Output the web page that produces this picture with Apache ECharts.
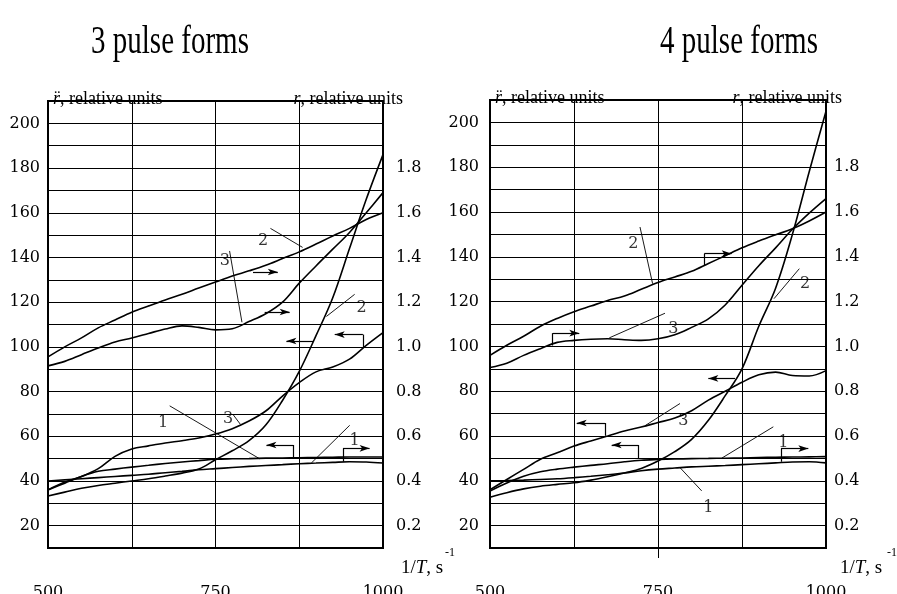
<!DOCTYPE html>
<html>
<head>
<meta charset="utf-8">
<script src="https://cdn.jsdelivr.net/npm/echarts@6/dist/echarts.min.js"></script>
<style>
  html, body { margin: 0; padding: 0; background: #fff; }
  #chart { width: 897px; height: 594px; }
</style>
</head>
<body>
<div id="chart"></div>
<script>
// 1/T values the curves were read at
const temps = [500, 525, 550, 575, 600, 625, 650, 675, 700, 725, 750, 775, 800, 825, 850, 875, 900, 925, 950, 975, 1000];
const xTicks = [500, 750, 1000];
const rddTicks = [20, 40, 60, 80, 100, 120, 140, 160, 180, 200];
const rTicks = [0.2, 0.4, 0.6, 0.8, 1.0, 1.2, 1.4, 1.6, 1.8];

// 3 pulse forms: r-double-dot (left axis) and r (right axis)
const p3_rdd1 = [36, 39, 42, 44.3, 45.3, 46.2, 47, 47.8, 48.5, 49.1, 49.7, 49.9, 50, 50.2, 50.3, 50.4, 50.5, 50.6, 50.7, 50.7, 50.7];
const p3_rdd2 = [33.3, 35, 36.7, 38, 39, 40, 41, 42.2, 43.5, 45.3, 49.5, 53.5, 58, 65, 76, 89, 105, 122, 144, 166, 186];
const p3_rdd3 = [36, 39.5, 42, 45.5, 51, 54.3, 55.7, 57, 58, 59.2, 61, 63.4, 66.8, 71.3, 78, 84, 88.8, 91, 94.5, 100.7, 106.4];
const p3_r1 = [0.40, 0.405, 0.41, 0.415, 0.42, 0.425, 0.43, 0.437, 0.443, 0.45, 0.455, 0.46, 0.465, 0.469, 0.473, 0.477, 0.48, 0.483, 0.486, 0.485, 0.48];
const p3_r2 = [0.955, 1.0, 1.04, 1.085, 1.12, 1.155, 1.183, 1.21, 1.235, 1.263, 1.29, 1.317, 1.34, 1.365, 1.395, 1.425, 1.46, 1.496, 1.53, 1.57, 1.6];
const p3_r3 = [0.915, 0.935, 0.965, 0.995, 1.022, 1.04, 1.06, 1.08, 1.094, 1.087, 1.076, 1.081, 1.113, 1.148, 1.2, 1.285, 1.362, 1.437, 1.512, 1.6, 1.69];

// 4 pulse forms
const p4_rdd1 = [35.4, 39, 42, 44, 45.2, 46.1, 46.9, 47.6, 48.5, 49.2, 49.5, 49.7, 49.9, 50, 50.1, 50.2, 50.4, 50.5, 50.6, 50.7, 50.8];
const p4_rdd2 = [32.7, 34.7, 36.4, 37.6, 38.4, 39.1, 40.3, 41.8, 43.5, 45.5, 48.8, 53, 58.5, 67, 78, 90, 109, 126, 150, 178, 205];
const p4_rdd3 = [36, 40.6, 45.1, 49.6, 52.5, 55.5, 57.8, 60, 62.2, 64, 66, 68, 71.3, 76, 80, 84, 87.3, 88.5, 87, 86.8, 89.2];
const p4_r1 = [0.40, 0.401, 0.403, 0.406, 0.409, 0.414, 0.42, 0.427, 0.435, 0.445, 0.452, 0.457, 0.462, 0.465, 0.468, 0.472, 0.476, 0.48, 0.484, 0.485, 0.48];
const p4_r2 = [0.96, 1.005, 1.045, 1.09, 1.125, 1.155, 1.18, 1.205, 1.225, 1.255, 1.285, 1.31, 1.335, 1.37, 1.405, 1.44, 1.47, 1.498, 1.525, 1.56, 1.6];
const p4_r3 = [0.906, 0.925, 0.96, 0.99, 1.018, 1.027, 1.032, 1.034, 1.03, 1.027, 1.034, 1.052, 1.085, 1.123, 1.185, 1.273, 1.36, 1.44, 1.523, 1.595, 1.66];

// curve labels, leader lines and arrows, in (1/T, r-double-dot) units
const p3_labels = [[821, 147.4, "2"], [764, 138.4, "3"], [968, 117.6, "2"], [671.6, 66.1, "1"], [768.7, 67.6, "3"], [957.7, 57.9, "1"]];
const p3_leaders = [
  [[832, 153], [880, 144.5]], [[771, 142.9], [789.5, 111]], [[957.7, 123.5], [915.5, 113.6]],
  [[681.6, 73.6], [816, 49.9]], [[776, 69.8], [787, 65.4]], [[950.3, 64.9], [893, 48]]
];
const p3_arrows = [
  [[806, 133.5], [843, 133.5]], [[823.4, 115.6], [860.7, 115.6]], [[895.5, 102.6], [855.8, 102.6]],
  [[970, 99.7], [970, 105.5], [927.9, 105.5]], [[865.7, 50.2], [865.7, 56.1], [826, 56.1]],
  [[940.3, 48.6], [940.3, 54.6], [980, 54.6]]
];
const p4_labels = [[713.3, 145.9, "2"], [968.8, 128, "2"], [772.8, 107.8, "3"], [787.7, 66.8, "3"], [824.9, 28, "1"], [936.5, 57.1, "1"]];
const p4_leaders = [
  [[723.2, 153.3], [742, 128]], [[960.3, 134.7], [922.6, 121.3]], [[760.4, 114.8], [677.5, 103.8]],
  [[782.7, 74.5], [730.7, 64.6]], [[815, 35.5], [782.7, 45.9]], [[921.6, 64.1], [844.8, 50.1]]
];
const p4_arrows = [
  [[818.9, 136.2], [818.9, 141.4], [859.7, 141.4]], [[593.3, 100.4], [593.3, 105.9], [632.9, 105.9]],
  [[671.1, 60.1], [671.1, 65.8], [629, 65.8]], [[720.7, 50.1], [720.7, 56], [681, 56]],
  [[864.6, 85.7], [824.9, 85.7]], [[933, 48.5], [933, 54.4], [973.7, 54.4]]
];

const SERIF = "Liberation Serif";
const NUMF = "DejaVu Serif";

function curve(gi, axis, values) {
  return {
    type: "line", xAxisIndex: gi, yAxisIndex: gi * 2 + axis,
    data: temps.map((t, i) => [t, values[i]]),
    smooth: 0.35, symbol: "none", silent: true,
    lineStyle: { color: "#000", width: 1.6 }
  };
}

function notes(gi, labels, leaders, arrows) {
  const lines = [];
  leaders.forEach(([a, b]) => {
    lines.push([{ coord: a, symbol: "none", lineStyle: { width: 0.9 } }, { coord: b, symbol: "none" }]);
  });
  arrows.forEach((pts) => {
    for (let i = 0; i < pts.length - 1; i++) {
      const last = i === pts.length - 2;
      lines.push([
        { coord: pts[i], symbol: "none" },
        { coord: pts[i + 1], symbol: last ? "arrow" : "none", symbolSize: [5, 10] }
      ]);
    }
  });
  return [
    {
      type: "line", xAxisIndex: gi, yAxisIndex: gi * 2, data: [], silent: true,
      markLine: {
        silent: true, animation: false, symbol: ["none", "none"],
        label: { show: false }, emphasis: { disabled: true },
        lineStyle: { color: "#000", type: "solid", width: 1.2 },
        data: lines
      }
    },
    {
      type: "scatter", xAxisIndex: gi, yAxisIndex: gi * 2, silent: true,
      data: labels, symbolSize: 0,
      label: {
        show: true, position: "inside", formatter: (p) => p.data[2],
        fontFamily: NUMF, fontSize: 16, color: "#000"
      }
    }
  ];
}

function xAxis(gi) {
  return {
    type: "value", gridIndex: gi, position: "bottom", min: 500, max: 1000, interval: 125,
    axisLine: { show: false }, axisTick: { show: false },
    splitLine: { show: true, lineStyle: { color: "#000", width: 1 } },
    axisLabel: { customValues: xTicks, margin: 37, formatter: (v) => String(v), fontFamily: NUMF, fontSize: 16, color: "#000" }
  };
}

// only carries the short tick under 750 in the right panel
const tickAxis = {
  type: "value", gridIndex: 1, position: "bottom", offset: 0, min: 500, max: 1000, interval: 250,
  axisLine: { show: false }, splitLine: { show: false }, axisLabel: { show: false },
  axisTick: { show: true, inside: false, customValues: [750], length: 10, lineStyle: { color: "#000", width: 1 } }
};

function yLeft(gi, margin, pad) {
  return {
    type: "value", gridIndex: gi, min: 10, max: 210, interval: 10,
    axisLine: { show: false }, axisTick: { show: false },
    splitLine: { show: true, lineStyle: { color: "#000", width: 1 } },
    axisLabel: { customValues: rddTicks, margin: margin, padding: pad, fontFamily: NUMF, fontSize: 16, color: "#000" }
  };
}

function yRight(gi, margin, pad) {
  return {
    type: "value", gridIndex: gi, position: "right", min: 0.1, max: 2.1, interval: 0.1,
    axisLine: { show: false }, axisTick: { show: false }, splitLine: { show: false },
    axisLabel: {
      customValues: rTicks, margin: margin, padding: pad, formatter: (v) => v.toFixed(1),
      fontFamily: NUMF, fontSize: 16, color: "#000"
    }
  };
}

const gridStyle = { show: true, borderColor: "#000", borderWidth: 2, backgroundColor: "transparent", containLabel: false, outerBoundsMode: "none" };

function txt(x, y, text, size, align, extra) {
  return Object.assign({
    type: "text", x: x, y: y, silent: true,
    style: {
      text: text, fill: "#000", font: size + 'px "' + SERIF + '"',
      align: align, verticalAlign: "middle",
      rich: { i: { fontStyle: "italic", fontSize: size, fontFamily: SERIF } }
    }
  }, extra || {});
}

const chart = echarts.init(document.getElementById("chart"));
chart.setOption({
  backgroundColor: "#fff",
  animation: false,
  grid: [
    Object.assign({ left: 48, top: 101, width: 335, height: 447 }, gridStyle),
    Object.assign({ left: 490, top: 100, width: 336, height: 448 }, gridStyle)
  ],
  xAxis: [xAxis(0), xAxis(1), tickAxis],
  yAxis: [yLeft(0, 8, [0, 0, 0, 0]), yRight(0, 13, [0, 0, 10, 0]), yLeft(1, 11, [0, 0, 11, 0]), yRight(1, 8, [0, 0, 12, 0])],
  series: [
    curve(0, 0, p3_rdd1), curve(0, 0, p3_rdd2), curve(0, 0, p3_rdd3),
    curve(0, 1, p3_r1), curve(0, 1, p3_r2), curve(0, 1, p3_r3),
    curve(1, 0, p4_rdd1), curve(1, 0, p4_rdd2), curve(1, 0, p4_rdd3),
    curve(1, 1, p4_r1), curve(1, 1, p4_r2), curve(1, 1, p4_r3),
    ...notes(0, p3_labels, p3_leaders, p3_arrows),
    ...notes(1, p4_labels, p4_leaders, p4_arrows)
  ],
  graphic: [
    txt(170, 42, "3 pulse forms", 29, "center", { scaleY: 1.4 }),
    txt(739, 42, "4 pulse forms", 29, "center", { scaleY: 1.4 }),
    txt(53, 99, "{i|r\u0308}, relative units", 18, "left"),
    txt(403, 99, "{i|r}, relative units", 18, "right"),
    txt(495, 98, "{i|r\u0308}, relative units", 18, "left"),
    txt(842, 98, "{i|r}, relative units", 18, "right"),
    txt(401, 568, "1/{i|T}, s", 19, "left"),
    txt(445, 553, "-1", 12, "left"),
    txt(840, 568, "1/{i|T}, s", 19, "left"),
    txt(887, 553, "-1", 12, "left")
  ]
});
</script>
</body>
</html>
